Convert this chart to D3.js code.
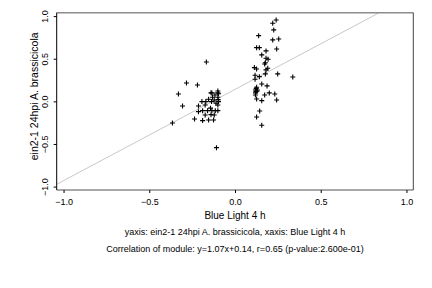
<!DOCTYPE html>
<html>
<head>
<meta charset="utf-8">
<script src="https://cdn.jsdelivr.net/npm/d3@7"></script>
<style>
  body { margin: 0; background: #fff; }
  svg { display: block; font-family: "Liberation Sans", Arial, Helvetica, sans-serif; }
</style>
</head>
<body>
<div id="chart"></div>
<script>
const width = 432, height = 288;

// Blue Light 4 h (x) vs ein2-1 24hpi A. brassicicola (y)
const xValues = [
  -0.167, -0.283, -0.219, -0.330, -0.306, -0.365, -0.140, -0.100, -0.100, -0.117,
  -0.131, -0.121, -0.100, -0.096, -0.111, -0.100, -0.137, -0.154, -0.170, -0.193,
  -0.174, -0.213, -0.189, -0.160, -0.135, -0.115, -0.100, -0.140, -0.121, -0.174,
  -0.213, -0.236, -0.189, -0.154, -0.125, -0.108, -0.135, -0.096, -0.098, -0.143,
  0.240, 0.220, 0.226, 0.138, 0.220, 0.255, 0.126, 0.142, 0.243, 0.181,
  0.156, 0.181, 0.193, 0.173, 0.113, 0.126, 0.191, 0.181, 0.177, 0.249,
  0.337, 0.117, 0.142, 0.117, 0.156, 0.187, 0.126, 0.119, 0.130, 0.122,
  0.200, 0.232, 0.173, 0.119, 0.126, 0.156, 0.243, 0.144, 0.126, 0.156,
  0.124, 0.128, 0.120, 0.177
];
const yValues = [
  0.462, 0.216, 0.192, 0.087, -0.054, -0.254, 0.100, 0.122, 0.100, 0.075,
  0.048, 0.016, 0.048, -0.003, -0.022, -0.042, -0.003, 0.025, -0.003, -0.003,
  -0.042, -0.054, -0.109, -0.109, -0.109, -0.109, -0.109, -0.156, -0.160, -0.160,
  -0.121, -0.207, -0.226, -0.218, -0.218, -0.543, 0.099, 0.090, 0.020, -0.080,
  0.955, 0.917, 0.838, 0.771, 0.721, 0.732, 0.630, 0.630, 0.615, 0.592,
  0.545, 0.506, 0.494, 0.439, 0.396, 0.380, 0.388, 0.369, 0.322, 0.322,
  0.286, 0.306, 0.290, 0.259, 0.204, 0.181, 0.165, 0.134, 0.134, 0.114,
  0.099, 0.087, 0.075, 0.075, 0.028, 0.008, 0.016, -0.113, -0.183, -0.281,
  0.150, 0.120, 0.100, 0.452
];
const xTicks = [-1.0, -0.5, 0.0, 0.5, 1.0];
const yTicks = [-1.0, -0.5, 0.0, 0.5, 1.0];
const slope = 1.07, intercept = 0.14;

const xLabel = "Blue Light 4 h";
const yLabel = "ein2-1 24hpi A. brassicicola";
const subLines = [
  "yaxis: ein2-1 24hpi A. brassicicola, xaxis: Blue Light 4 h",
  "Correlation of module: y=1.07x+0.14, r=0.65 (p-value:2.600e-01)"
];

const boxLeft = 56.7, boxRight = 413.3, boxTop = 12.7, boxBottom = 190;

let x = d3.scaleLinear().domain([-1.04, 1.04]).range([boxLeft, boxRight]);
let y = d3.scaleLinear().domain([-1.04, 1.04]).range([boxBottom, boxTop]);

let svg = d3.select("#chart")
  .append("svg")
  .attr("width", width)
  .attr("height", height);

// regression line, clipped to plot box
svg.append("clipPath").attr("id", "plotclip")
  .append("rect")
  .attr("x", boxLeft).attr("y", boxTop)
  .attr("width", boxRight - boxLeft).attr("height", boxBottom - boxTop);

svg.append("line")
  .attr("clip-path", "url(#plotclip)")
  .attr("x1", x(-1.04)).attr("y1", y(slope * -1.04 + intercept))
  .attr("x2", x(1.04)).attr("y2", y(slope * 1.04 + intercept))
  .attr("stroke", "#c8c8c8")
  .attr("stroke-width", 1);

// points as plus signs
let pts = svg.append("g").attr("class", "points")
  .selectAll("path")
  .data(xValues.map((d, i) => [d, yValues[i]]))
  .enter().append("path")
  .attr("d", (d) => {
    let px = x(d[0]), py = y(d[1]), s = 2.5;
    return "M" + (px - s) + "," + py + "H" + (px + s) + "M" + px + "," + (py - s) + "V" + (py + s);
  })
  .attr("stroke", "#000")
  .attr("stroke-width", 1.1);

// frame
svg.append("line").attr("x1", boxLeft).attr("x2", boxRight).attr("y1", boxTop).attr("y2", boxTop)
  .attr("stroke", "#8c8c8c").attr("stroke-width", 1.5);
svg.append("line").attr("x1", boxRight).attr("x2", boxRight).attr("y1", boxTop).attr("y2", boxBottom)
  .attr("stroke", "#444").attr("stroke-width", 1);
svg.append("line").attr("x1", boxLeft).attr("x2", boxRight).attr("y1", boxBottom).attr("y2", boxBottom)
  .attr("stroke", "#555").attr("stroke-width", 1.2);
svg.append("line").attr("x1", boxLeft).attr("x2", boxLeft).attr("y1", boxTop).attr("y2", boxBottom)
  .attr("stroke", "#000").attr("stroke-width", 1);

// x axis
let xAxis = d3.axisBottom(x).tickValues(xTicks).tickSize(3).tickPadding(6)
  .tickFormat(d3.format(".1f"));
let gx = svg.append("g").attr("transform", "translate(0," + boxBottom + ")").call(xAxis);
gx.select(".domain").remove();
gx.selectAll("text").attr("font-size", 9).attr("font-family", null).attr("fill", "#000");

// y axis with rotated labels
let yAxis = d3.axisLeft(y).tickValues(yTicks).tickSize(3).tickFormat(d3.format(".1f"));
let gy = svg.append("g").attr("transform", "translate(" + boxLeft + ",0)").call(yAxis);
gy.select(".domain").remove();
gy.selectAll("text")
  .attr("font-size", 9).attr("font-family", null).attr("fill", "#000")
  .attr("x", null).attr("dy", null)
  .attr("text-anchor", "middle")
  .attr("transform", "translate(-9,0) rotate(-90)");

svg.append("text")
  .attr("x", x(0)).attr("y", 219)
  .attr("text-anchor", "middle")
  .attr("font-size", 10)
  .text(xLabel);

svg.append("text")
  .attr("transform", "translate(38," + ((boxTop + boxBottom) / 2 - 5) + ") rotate(-90)")
  .attr("text-anchor", "middle")
  .attr("font-size", 10.5)
  .text(yLabel);

svg.selectAll(".sub").data(subLines).enter().append("text")
  .attr("class", "sub")
  .attr("x", x(0))
  .attr("y", (d, i) => 235 + i * 17)
  .attr("text-anchor", "middle")
  .attr("font-size", 9)
  .text((d) => d);
</script>
</body>
</html>
